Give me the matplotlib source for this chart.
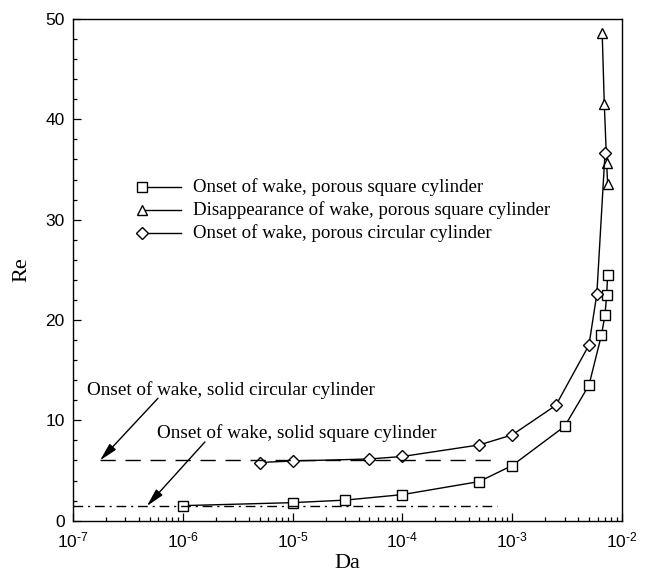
import numpy as np
import matplotlib
matplotlib.use("Agg")
import matplotlib.pyplot as plt
from matplotlib.ticker import LogLocator, MultipleLocator, FuncFormatter, NullFormatter

plt.rcParams['mathtext.fontset'] = 'custom'
plt.rcParams['mathtext.rm'] = 'Liberation Sans'
plt.rcParams['mathtext.it'] = 'Liberation Sans'

SERIF = 'Liberation Serif'
SANS = 'Liberation Sans'

# Onset of wake, porous square cylinder
da_sq_onset = [1e-6, 1e-5, 3e-5, 1e-4, 5e-4, 1e-3, 3e-3, 5e-3, 6.5e-3, 7.0e-3, 7.25e-3, 7.4e-3]
re_sq_onset = [1.5, 1.8, 2.05, 2.6, 3.9, 5.5, 9.4, 13.5, 18.5, 20.5, 22.5, 24.5]

# Disappearance of wake, porous square cylinder
da_sq_disap = [6.6e-3, 6.9e-3, 7.25e-3, 7.4e-3]
re_sq_disap = [48.6, 41.5, 35.6, 33.6]

# Onset of wake, porous circular cylinder
da_circ_onset = [5e-6, 1e-5, 5e-5, 1e-4, 5e-4, 1e-3, 2.5e-3, 5e-3, 5.9e-3, 7.0e-3]
re_circ_onset = [5.8, 5.95, 6.15, 6.4, 7.55, 8.55, 11.5, 17.5, 22.6, 36.6]

# Solid cylinder reference values
re_solid_circ = 6.0
re_solid_sq = 1.45
da_solid_circ_span = [1.76e-7, 7.6e-4]
da_solid_sq_span = [1e-7, 7.3e-4]

legend_labels = ['Onset of wake, porous square cylinder',
                 'Disappearance of wake, porous square cylinder',
                 'Onset of wake, porous circular cylinder']

fig = plt.figure(figsize=(6.51, 5.79), dpi=100)
ax = fig.add_axes([73/651, 1 - 520.7/579, 549/651, 501.7/579])

mk = dict(color='black', lw=1.0, markerfacecolor='white', markeredgecolor='black',
          markeredgewidth=1.0)
ax.plot(da_sq_onset, re_sq_onset, marker='s', ms=6.5, **mk)
ax.plot(da_sq_disap, re_sq_disap, marker='^', ms=7, **mk)
ax.plot(da_circ_onset, re_circ_onset, marker='D', ms=6, **mk)

ax.plot(da_solid_circ_span, [re_solid_circ] * 2, color='black', lw=1.0,
        dashes=(11, 7))
ax.plot(da_solid_sq_span, [re_solid_sq] * 2, color='black', lw=1.0,
        dashes=(7, 3.5, 1.5, 3.5))

ax.set_xscale('log')
ax.set_xlim(1e-7, 1e-2)
ax.set_ylim(0, 50)


def pow_label(v, pos):
    return r'$10^{\text{-}%d}$' % abs(round(np.log10(v)))


ax.xaxis.set_major_locator(LogLocator(base=10, numticks=20))
ax.xaxis.set_minor_locator(LogLocator(base=10, subs=np.arange(2, 10), numticks=20))
ax.xaxis.set_minor_formatter(NullFormatter())
ax.xaxis.set_major_formatter(FuncFormatter(pow_label))
ax.yaxis.set_major_locator(MultipleLocator(10))
ax.yaxis.set_minor_locator(MultipleLocator(2))

ax.tick_params(which='both', direction='in', top=False, right=False)
ax.tick_params(which='major', length=5.5, width=0.9, labelsize=12.5)
ax.tick_params(axis='y', which='major', pad=6)
ax.tick_params(axis='x', which='major', pad=7)
ax.tick_params(which='minor', length=3.2, width=0.9)
for lab in ax.get_xticklabels() + ax.get_yticklabels():
    lab.set_family(SANS)
for sp in ax.spines.values():
    sp.set_linewidth(1.0)

ax.set_xlabel('Da', family=SERIF, fontsize=16, labelpad=3)
ax.set_ylabel('Re', family=SERIF, fontsize=16, labelpad=10)

# Legend drawn as marker + line samples with labels
leg_x0, leg_x1, leg_tx = 4.25e-7, 9.6e-7, 1.24e-6
leg_y = [33.3, 31.0, 28.7]
for y, m, ms, lab in zip(leg_y, ['s', '^', 'D'], [6.5, 7, 6], legend_labels):
    ax.plot([leg_x0, leg_x1], [y, y], color='black', lw=1.0)
    ax.plot([leg_x0], [y], marker=m, ms=ms, ls='none', markerfacecolor='white',
            markeredgecolor='black', markeredgewidth=1.0)
    ax.text(leg_tx, y, lab, family=SERIF, fontsize=13.6, va='center', ha='left')

arrow = dict(arrowstyle='-|>,head_length=0.55,head_width=0.13', color='black',
             lw=1.0, mutation_scale=20, shrinkA=0, shrinkB=0)
ax.annotate('', xy=(da_solid_circ_span[0], re_solid_circ), xytext=(5.94e-7, 12.2),
            arrowprops=arrow)
ax.annotate('', xy=(4.7e-7, re_solid_sq), xytext=(1.59e-6, 7.85),
            arrowprops=arrow)
ax.text(1.34e-7, 13.0, 'Onset of wake, solid circular cylinder', family=SERIF,
        fontsize=13.8, va='center', ha='left')
ax.text(5.82e-7, 8.75, 'Onset of wake, solid square cylinder', family=SERIF,
        fontsize=13.8, va='center', ha='left')

fig.savefig('out.png', dpi=100)
